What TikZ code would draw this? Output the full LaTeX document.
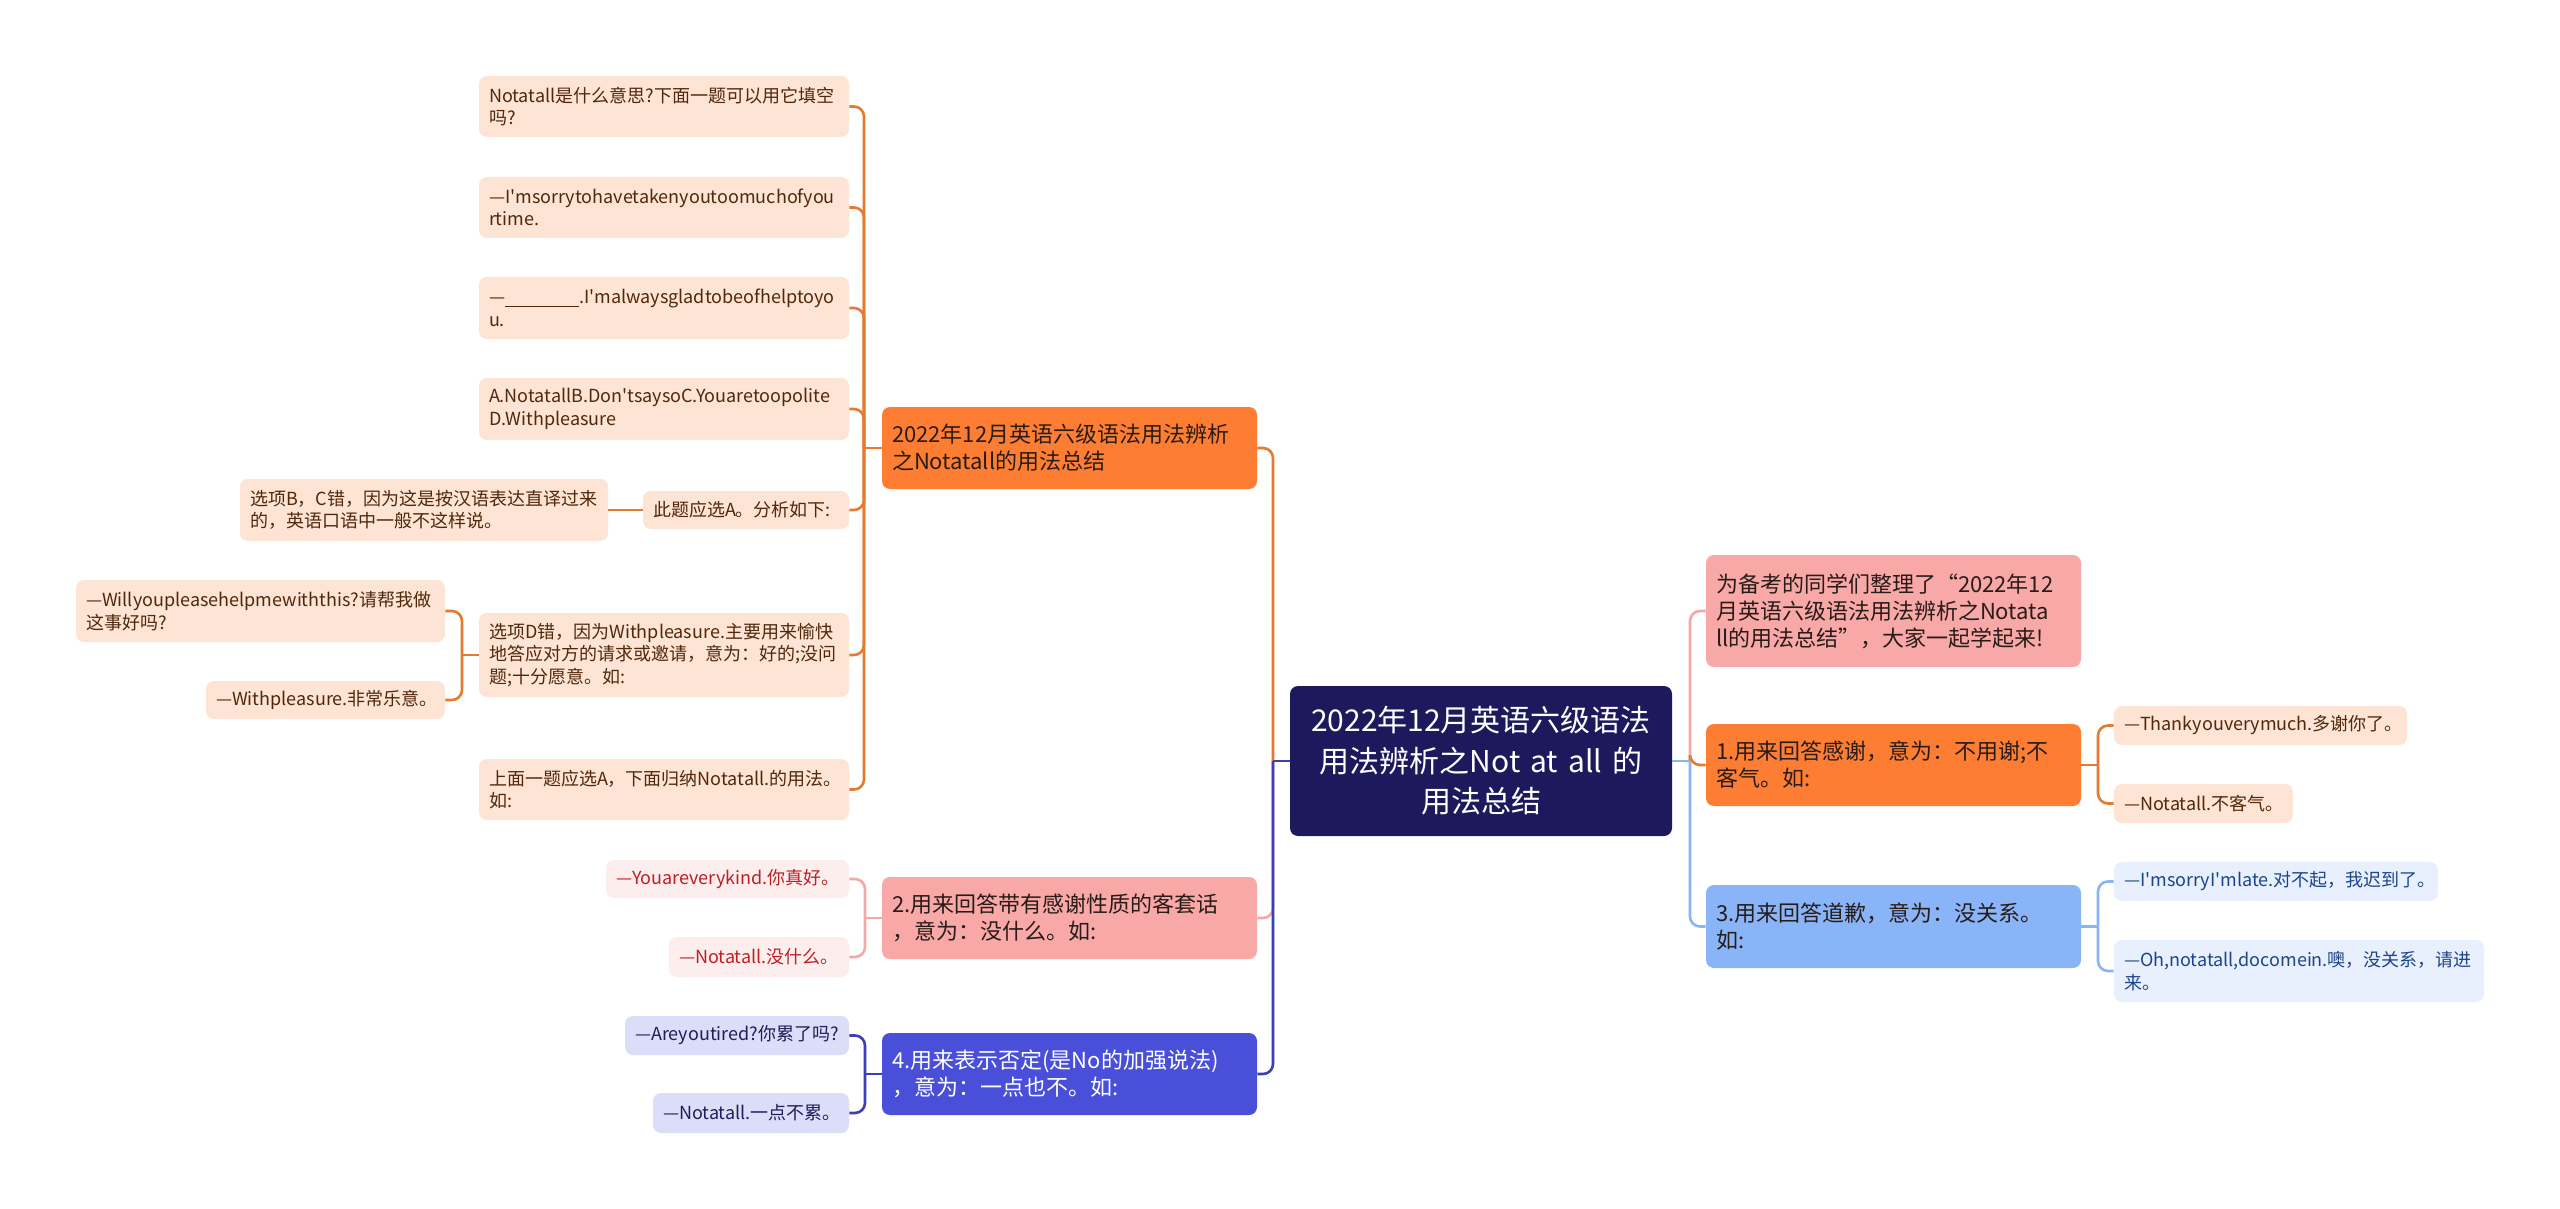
\documentclass[tikz,border=0pt]{standalone}
\usepackage{fontspec}
\setmainfont{Noto Sans CJK SC}
\definecolor{navy}{RGB}{28,26,92}
\definecolor{oFill}{RGB}{253,126,51}
\definecolor{oLeaf}{RGB}{253,228,212}
\definecolor{oText}{RGB}{80,40,12}
\definecolor{oLine}{RGB}{228,122,52}
\definecolor{pFill}{RGB}{249,168,168}
\definecolor{pLeaf}{RGB}{253,238,238}
\definecolor{pText}{RGB}{190,30,38}
\definecolor{pLine}{RGB}{244,168,168}
\definecolor{bFill}{RGB}{74,79,217}
\definecolor{bLeaf}{RGB}{220,221,248}
\definecolor{bText}{RGB}{30,30,90}
\definecolor{bLine}{RGB}{60,64,180}
\definecolor{lFill}{RGB}{138,180,248}
\definecolor{lLeaf}{RGB}{232,240,253}
\definecolor{lText}{RGB}{28,68,140}
\definecolor{lLine}{RGB}{138,180,248}
\definecolor{darkText}{RGB}{40,28,24}
\newcommand\dsh{\mbox{—}}
\newcommand\boxnode[7]{%
\pgfmathsetmacro\bw{(#5-#3)*0.5}%
\pgfmathsetmacro\bh{(#6-#4)*0.5}%
\pgfmathsetmacro\tw{(#5-#3)*0.5-10}%
\node[#2,minimum width=\bw pt,minimum height=\bh pt,text width=\tw pt] (#1) at ({(#3+#5)/2},{(#4+#6)/2}) {#7};}
\begin{document}
\begin{tikzpicture}[x=0.5pt,y=-0.5pt,
  base/.style={rounded corners=4pt,inner xsep=5pt,inner ysep=0pt,align=left,font=\fontsize{9}{11.3}\selectfont},
  leafO/.style={base,fill=oLeaf,text=oText},
  leafP/.style={base,fill=pLeaf,text=pText},
  leafB/.style={base,fill=bLeaf,text=bText},
  leafL/.style={base,fill=lLeaf,text=lText},
  branch/.style={base,font=\fontsize{11}{13.5}\selectfont},
  brO/.style={branch,fill=oFill,text=darkText},
  brP/.style={branch,fill=pFill,text=darkText},
  brB/.style={branch,fill=bFill,text=white},
  brL/.style={branch,fill=lFill,text=darkText},
  root/.style={base,fill=navy,text=white,align=center,font=\fontsize{15}{20.25}\selectfont},
  conn/.style={line width=1.3pt,rounded corners=5pt},
]
\useasboundingbox[fill=white] (0,0) rectangle (2560,1209);
% root
\boxnode{C}{root}{1290}{686}{1672}{836}{2022年12月英语六级语法\\用法辨析之Not at all 的\\用法总结}
% left branches
\boxnode{B1}{brO}{882}{407}{1257}{489}{2022年12月英语六级语法用法辨析\\之Notatall的用法总结}
\boxnode{B2}{brP}{882}{877}{1257}{959}{2.用来回答带有感谢性质的客套话\\，意为：没什么。如:}
\boxnode{B4}{brB}{882}{1033}{1257}{1115}{4.用来表示否定(是No的加强说法)\\，意为：一点也不。如:}
% orange leaves
\boxnode{L1}{leafO}{479}{76}{849}{137}{Notatall是什么意思?下面一题可以用它填空\\吗?}
\boxnode{L2}{leafO}{479}{177}{849}{238}{\dsh I\textquotesingle msorrytohavetakenyoutoomuchofyou\\rtime.}
\boxnode{L3}{leafO}{479}{277}{849}{339}{\dsh\rule[-1.5pt]{37pt}{0.5pt}.I\textquotesingle malwaysgladtobeofhelptoyo\\u.}
\boxnode{L4}{leafO}{479}{378}{849}{440}{A.NotatallB.Don\textquotesingle tsaysoC.Youaretoopolite\\D.Withpleasure}
\boxnode{L5}{leafO}{643}{491}{849}{529}{此题应选A。分析如下:}
\boxnode{L5a}{leafO}{240}{479}{608}{541}{选项B，C错，因为这是按汉语表达直译过来\\的，英语口语中一般不这样说。}
\boxnode{L6}{leafO}{479}{613}{849}{697}{选项D错，因为Withpleasure.主要用来愉快\\地答应对方的请求或邀请，意为：好的;没问\\题;十分愿意。如:}
\boxnode{L6a}{leafO}{76}{580}{445}{642}{\dsh Willyoupleasehelpmewiththis?请帮我做\\这事好吗?}
\boxnode{L6b}{leafO}{206}{681}{445}{719}{\dsh Withpleasure.非常乐意。}
\boxnode{L7}{leafO}{479}{759}{849}{820}{上面一题应选A，下面归纳Notatall.的用法。\\如:}
% pink leaves
\boxnode{P1}{leafP}{606}{860}{849}{898}{\dsh Youareverykind.你真好。}
\boxnode{P2}{leafP}{669}{937}{849}{977}{\dsh Notatall.没什么。}
% blue leaves
\boxnode{Q1}{leafB}{625}{1016}{849}{1055}{\dsh Areyoutired?你累了吗?}
\boxnode{Q2}{leafB}{653}{1093}{849}{1133}{\dsh Notatall.一点不累。}
% right branches
\boxnode{R0}{brP}{1706}{555}{2081}{667}{为备考的同学们整理了“2022年12\\月英语六级语法用法辨析之Notata\\ll的用法总结”，大家一起学起来!}
\boxnode{R1}{brO}{1706}{724}{2081}{806}{1.用来回答感谢，意为：不用谢;不\\客气。如:}
\boxnode{R3}{brL}{1706}{885}{2081}{968}{3.用来回答道歉，意为：没关系。\\如:}
\boxnode{S1}{leafO}{2114}{706}{2407}{745}{\dsh Thankyouverymuch.多谢你了。}
\boxnode{S2}{leafO}{2114}{784}{2293}{823}{\dsh Notatall.不客气。}
\boxnode{T1}{leafL}{2114}{862}{2438}{901}{\dsh I\textquotesingle msorryI\textquotesingle mlate.对不起，我迟到了。}
\boxnode{T2}{leafL}{2114}{940}{2484}{1002}{\dsh Oh,notatall,docomein.噢，没关系，请进\\来。}
% spine coordinates
\coordinate (sL) at (1273,761);
\coordinate (sR) at (1690,761);
\coordinate (s1) at (864,448);
\coordinate (s2) at (865,918);
\coordinate (s4) at (865,1074);
\coordinate (s6) at (462,655);
\coordinate (sR1) at (2098,765);
\coordinate (sR3) at (2098,926.5);
% root to left
\draw[conn,pLine] (sL) |- (B2.east);
\draw[conn,bLine] (sL) |- (B4.east);
\draw[conn,oLine] (sL) |- (B1.east);
\draw[conn,bLine] (C.west) -- (sL);
% root to right
\draw[conn,pLine] (sR) |- (R0.west);
\draw[conn,lLine] (sR) |- (R3.west);
\draw[conn,oLine] (sR) |- (R1.west);
\draw[conn,lLine] (C.east) -- (sR);
% B1 leaves
\draw[conn,oLine] (B1.west) -- (s1);
\foreach \n in {L1,L2,L3,L4,L5,L6,L7} \draw[conn,oLine] (s1) |- (\n.east);
\draw[conn,oLine] (L5.west) -- (L5a.east);
\draw[conn,oLine] (L6.west) -- (s6);
\foreach \n in {L6a,L6b} \draw[conn,oLine] (s6) |- (\n.east);
% B2 leaves
\draw[conn,pLine] (B2.west) -- (s2);
\foreach \n in {P1,P2} \draw[conn,pLine] (s2) |- (\n.east);
% B4 leaves
\draw[conn,bLine] (B4.west) -- (s4);
\foreach \n in {Q1,Q2} \draw[conn,bLine] (s4) |- (\n.east);
% right leaves
\draw[conn,oLine] (R1.east) -- (sR1);
\foreach \n in {S1,S2} \draw[conn,oLine] (sR1) |- (\n.west);
\draw[conn,lLine] (R3.east) -- (sR3);
\foreach \n in {T1,T2} \draw[conn,lLine] (sR3) |- (\n.west);
\end{tikzpicture}
\end{document}
